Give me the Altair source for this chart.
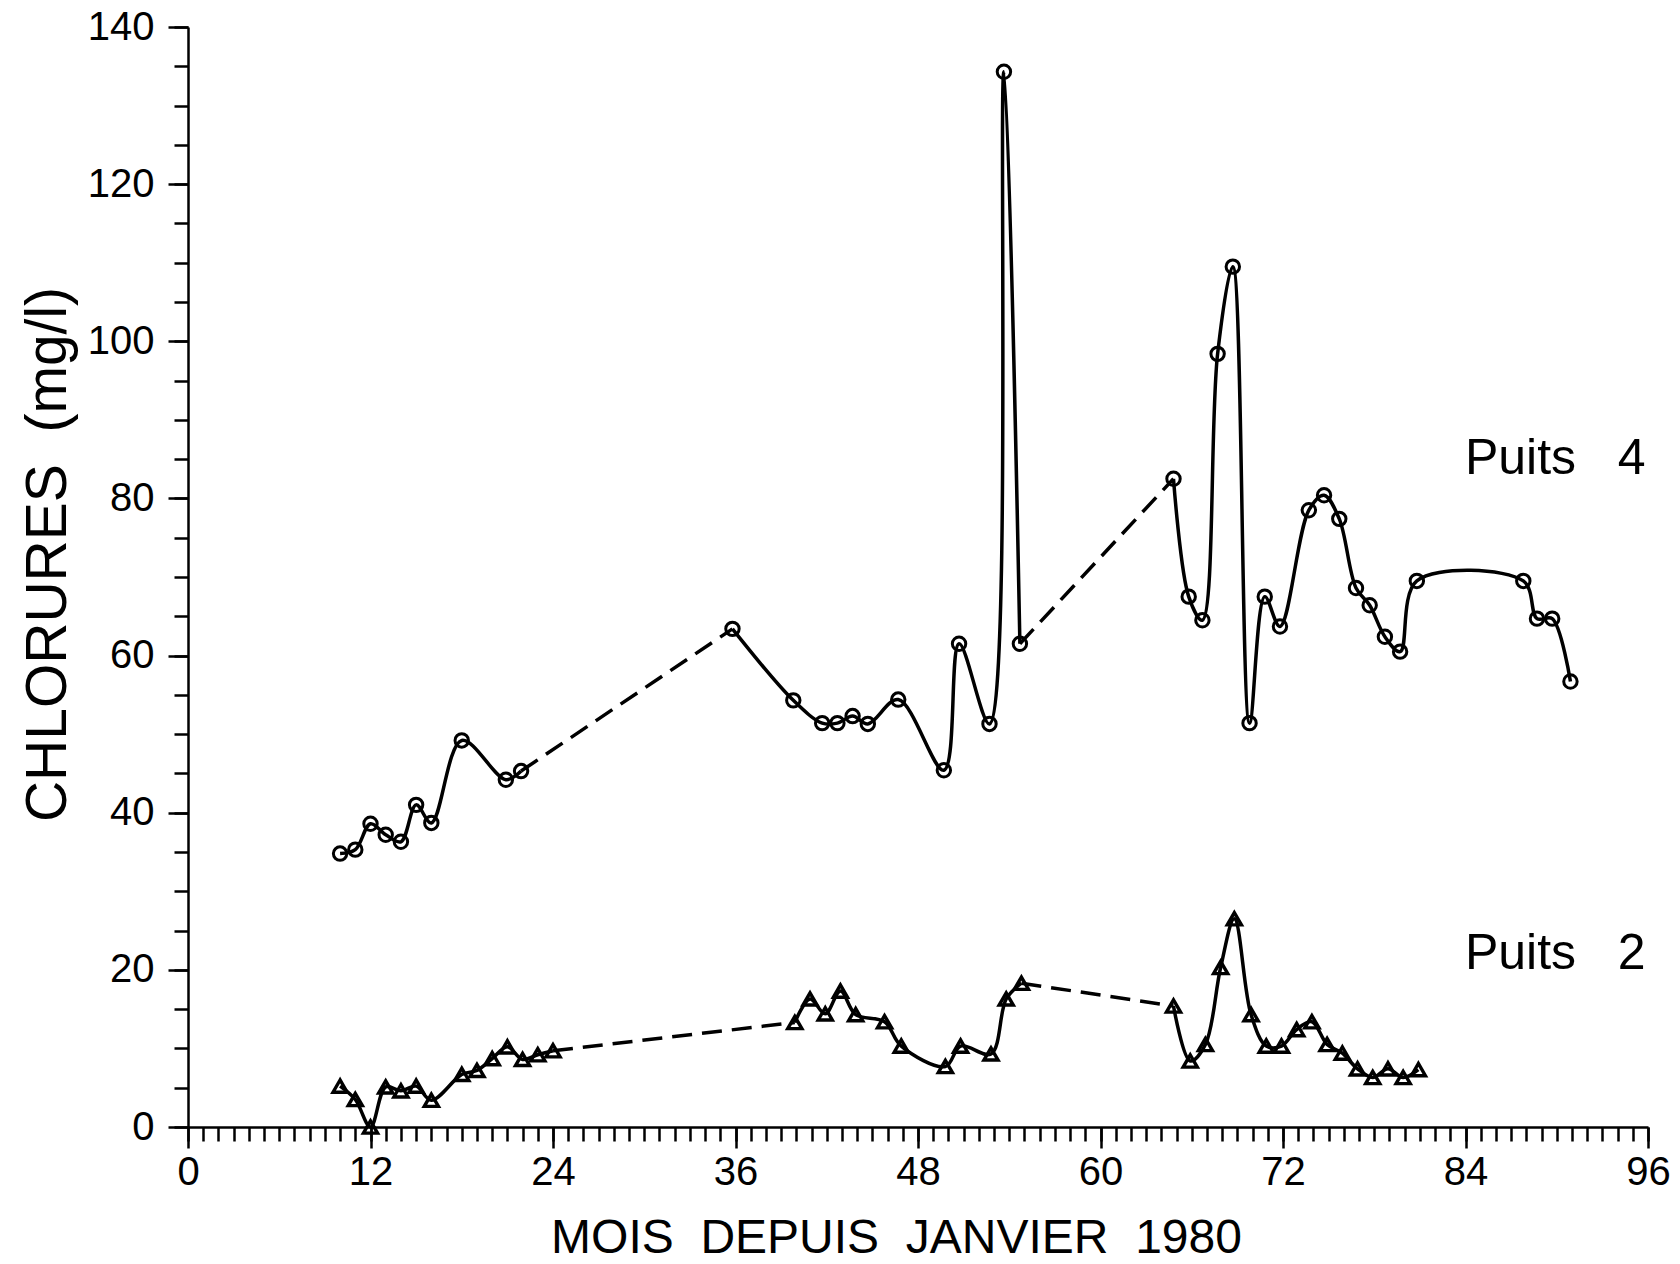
import altair as alt
import pandas as pd

# Chloride concentrations (mg/l) by month since January 1980
p4_months = [10, 11, 12, 13, 14, 15, 16, 18, 20.9, 21.9,
             35.8, 39.8, 41.7, 42.7, 43.7, 44.7, 46.7, 49.7, 50.7, 52.7, 53.65, 54.7,
             64.8, 65.8, 66.7, 67.7, 68.7, 69.8, 70.8, 71.8, 73.7, 74.7, 75.7, 76.8,
             77.7, 78.7, 79.7, 80.8,
             87.8, 88.7, 89.7, 90.9]
p4_values = [34.8, 35.3, 38.6, 37.2, 36.3, 41.0, 38.7, 49.2, 44.2, 45.3,
             63.4, 54.3, 51.4, 51.4, 52.3, 51.3, 54.4, 45.4, 61.5, 51.3, 134.3, 61.5,
             82.5, 67.5, 64.5, 98.4, 109.5, 51.4, 67.5, 63.7, 78.5, 80.4, 77.4, 68.6,
             66.4, 62.4, 60.5, 69.5,
             69.5, 64.7, 64.7, 56.7]
# index of the first point of each continuous run (gaps are drawn dashed)
p4_runs = [0, 10, 22]

p2_months = [10, 11, 12, 13, 14, 15, 16, 18, 19, 20, 21, 22, 23, 24,
             39.9, 40.9, 41.9, 42.9, 43.9, 45.8, 46.9, 49.8, 50.8, 52.8, 53.8, 54.8,
             64.8, 65.9, 66.9, 67.9, 68.8, 69.9, 70.9, 71.9, 72.9, 73.9, 74.9, 75.9,
             76.9, 77.9, 78.9, 79.9, 80.9]
p2_values = [5.2, 3.5, 0.0, 5.1, 4.6, 5.2, 3.4, 6.7, 7.2, 8.7, 10.2, 8.6, 9.2, 9.7,
             13.3, 16.3, 14.4, 17.3, 14.3, 13.4, 10.3, 7.7, 10.3, 9.3, 16.3, 18.3,
             15.4, 8.4, 10.5, 20.3, 26.5, 14.3, 10.3, 10.3, 12.4, 13.4, 10.5, 9.4,
             7.4, 6.3, 7.4, 6.3, 7.3]
p2_runs = [0, 14, 26]

well_labels = ["Puits\u00a0\u00a0 4", "Puits\u00a0\u00a0 2"]
label_months = [89.9, 89.9]
label_values = [85.0, 22.0]

x_major = list(range(0, 97, 12))
x_minor = list(range(0, 97, 1))
y_major = list(range(0, 141, 20))
y_minor = list(range(0, 141, 5))

FONT = "Liberation Sans"


def build(well, months, values, runs):
    solid, dashed = [], []
    bounds = runs + [len(months)]
    for r in range(len(runs)):
        for i in range(bounds[r], bounds[r + 1]):
            solid.append({"well": well, "run": f"{well}-{r}",
                          "month": months[i], "value": values[i]})
        if r + 1 < len(runs):
            a, b = bounds[r + 1] - 1, bounds[r + 1]
            for i in (a, b):
                dashed.append({"well": well, "gap": f"{well}-{r}",
                               "month": months[i], "value": values[i]})
    return solid, dashed


s4, d4 = build("P4", p4_months, p4_values, p4_runs)
s2, d2 = build("P2", p2_months, p2_values, p2_runs)
solid_df = pd.DataFrame(s4 + s2)
dashed_df = pd.DataFrame(d4 + d2)
p4_df = pd.DataFrame({"month": p4_months, "value": p4_values})
p2_df = pd.DataFrame({"month": p2_months, "value": p2_values})
label_df = pd.DataFrame({"month": label_months, "value": label_values, "text": well_labels})

xscale = alt.Scale(domain=[0, 96], nice=False, zero=False)
yscale = alt.Scale(domain=[0, 140], nice=False)

# minor ticks (no labels)
minor = alt.Chart(p4_df).mark_point(opacity=0).encode(
    x=alt.X("month:Q", scale=xscale,
            axis=alt.Axis(orient="bottom", values=x_minor, tickSize=14, tickWidth=2.5,
                          labels=False, domain=False, grid=False, title=None,
                          tickColor="black")),
    y=alt.Y("value:Q", scale=yscale,
            axis=alt.Axis(orient="left", values=y_minor, tickSize=14, tickWidth=2.5,
                          labels=False, domain=False, grid=False, title=None,
                          tickColor="black")),
)

solid = alt.Chart(solid_df).mark_line(
    interpolate="catmull-rom", color="black", strokeWidth=3.5
).encode(
    x=alt.X("month:Q", scale=xscale,
            axis=alt.Axis(orient="bottom", values=x_major, tickSize=21, tickWidth=2.5,
                          domainWidth=2.5, domainColor="black", tickColor="black",
                          grid=False, labelFont=FONT, labelFontSize=40,
                          labelColor="black", labelPadding=4, labelFlush=False,
                          labelOverlap=False,
                          title="MOIS\u00a0 DEPUIS\u00a0 JANVIER\u00a0 1980",
                          titleFont=FONT, titleFontSize=48, titleFontWeight="normal",
                          titleColor="black", titleX=708, titleY=111,
                          titleBaseline="middle", titleAnchor="middle")),
    y=alt.Y("value:Q", scale=yscale,
            axis=alt.Axis(orient="left", values=y_major, tickSize=20, tickWidth=2.5,
                          domainWidth=2.5, domainColor="black", tickColor="black",
                          grid=False, labelFont=FONT, labelFontSize=40,
                          labelColor="black", labelPadding=14, labelFlush=False,
                          labelOverlap=False,
                          title="CHLORURES\u00a0 (mg/l)",
                          titleFont=FONT, titleFontSize=57, titleFontWeight="normal",
                          titleColor="black", titleX=-140, titleY=527,
                          titleBaseline="middle", titleAngle=270)),
    detail="run:N",
)

dashed = alt.Chart(dashed_df).mark_line(
    color="black", strokeWidth=3.5, strokeDash=[20, 10]
).encode(
    x=alt.X("month:Q", scale=xscale, axis=None),
    y=alt.Y("value:Q", scale=yscale, axis=None),
    detail="gap:N",
)

circles = alt.Chart(p4_df).mark_point(
    shape="circle", size=180, filled=False, color="black", strokeWidth=3, opacity=1
).encode(
    x=alt.X("month:Q", scale=xscale, axis=None),
    y=alt.Y("value:Q", scale=yscale, axis=None),
)

triangles = alt.Chart(p2_df).mark_point(
    shape="triangle-up", size=200, filled=False, color="black", strokeWidth=3.4, opacity=1
).encode(
    x=alt.X("month:Q", scale=xscale, axis=None),
    y=alt.Y("value:Q", scale=yscale, axis=None),
)

labels = alt.Chart(label_df).mark_text(
    font=FONT, fontSize=50, color="black", align="center", baseline="middle"
).encode(
    x=alt.X("month:Q", scale=xscale, axis=None),
    y=alt.Y("value:Q", scale=yscale, axis=None),
    text="text:N",
)

chart = alt.layer(minor, solid, dashed, circles, triangles, labels).resolve_axis(
    x="independent", y="independent"
).properties(
    width=1460, height=1100,
    autosize=alt.AutoSizeParams(type="none"),
    padding={"left": 188, "top": 27, "right": 32, "bottom": 137},
    background="white",
).configure_view(stroke=None)

chart.save("out.html", embed_options={"renderer": "svg", "actions": False})
